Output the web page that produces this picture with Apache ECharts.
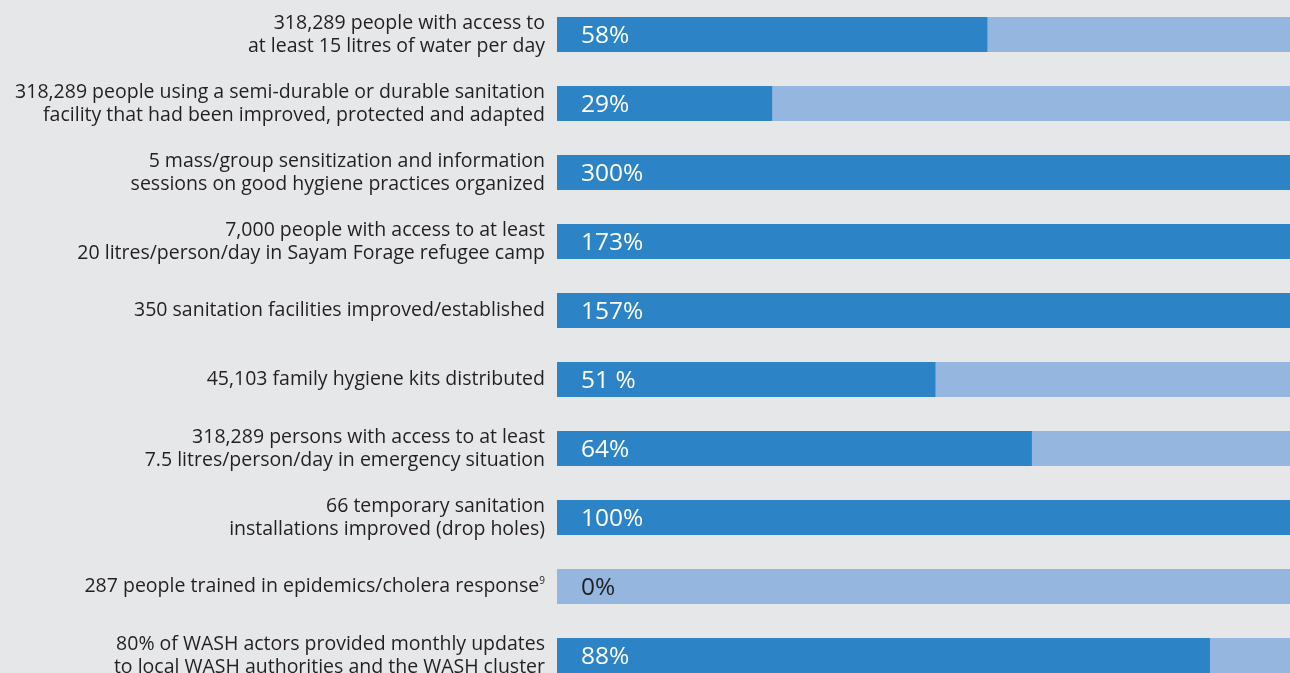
<!DOCTYPE html>
<html><head><meta charset="utf-8">
<script src="https://cdn.jsdelivr.net/npm/echarts@6/dist/echarts.min.js"></script>
<style>html,body{margin:0;padding:0;background:#e6e7e9;}#c{width:1290px;height:673px;}</style>
</head><body><div id="c"></div>
<script>
const categories = [
  "318,289 people with access to\nat least 15 litres of water per day",
  "318,289 people using a semi-durable or durable sanitation\nfacility that had been improved, protected and adapted",
  "5 mass/group sensitization and information\nsessions on good hygiene practices organized",
  "7,000 people with access to at least\n20 litres/person/day in Sayam Forage refugee camp",
  "350 sanitation facilities improved/established",
  "45,103 family hygiene kits distributed",
  "318,289 persons with access to at least\n7.5 litres/person/day in emergency situation",
  "66 temporary sanitation\ninstallations improved (drop holes)",
  "287 people trained in epidemics/cholera response{sup|9}",
  "80% of WASH actors provided monthly updates\nto local WASH authorities and the WASH cluster"
];
const achievedPct = [58, 29, 300, 173, 157, 51, 64, 100, 0, 88];
const pctLabels = ["58%", "29%", "300%", "173%", "157%", "51 %", "64%", "100%", "0%", "88%"];
const targetPct = 100;

const chart = echarts.init(document.getElementById('c'), null, {renderer: 'canvas'});
const FONT = 'Open Sans';
chart.setOption({
  backgroundColor: '#e6e7e9',
  animation: false,
  grid: {left: 557, right: -9, top: 0, bottom: -17, containLabel: false, outerBoundsMode: 'none'},
  xAxis: {type: 'value', min: 0, max: targetPct, show: false},
  yAxis: {
    type: 'category', data: categories, inverse: true,
    axisLine: {show: false}, axisTick: {show: false}, splitLine: {show: false},
    axisLabel: {
      margin: 12, color: '#231f20', fontFamily: FONT, fontSize: 19.5, lineHeight: 23, align: 'right',
      rich: {sup: {fontSize: 10, fontFamily: FONT, color: '#231f20', padding: [0, 0, 10, 0]}}
    }
  },
  series: [{
    type: 'bar',
    barWidth: 35,
    data: achievedPct.map((v, i) => ({
      value: Math.min(v, targetPct),
      label: {color: v === 0 ? '#231f20' : '#ffffff'}
    })),
    itemStyle: {color: '#2c84c6'},
    showBackground: true,
    backgroundStyle: {color: '#94b6df'},
    label: {
      show: true, position: 'insideLeft', distance: 24, offset: [0, 2],
      fontFamily: FONT, fontSize: 24.5,
      formatter: p => pctLabels[p.dataIndex]
    }
  }]
});
</script></body></html>
